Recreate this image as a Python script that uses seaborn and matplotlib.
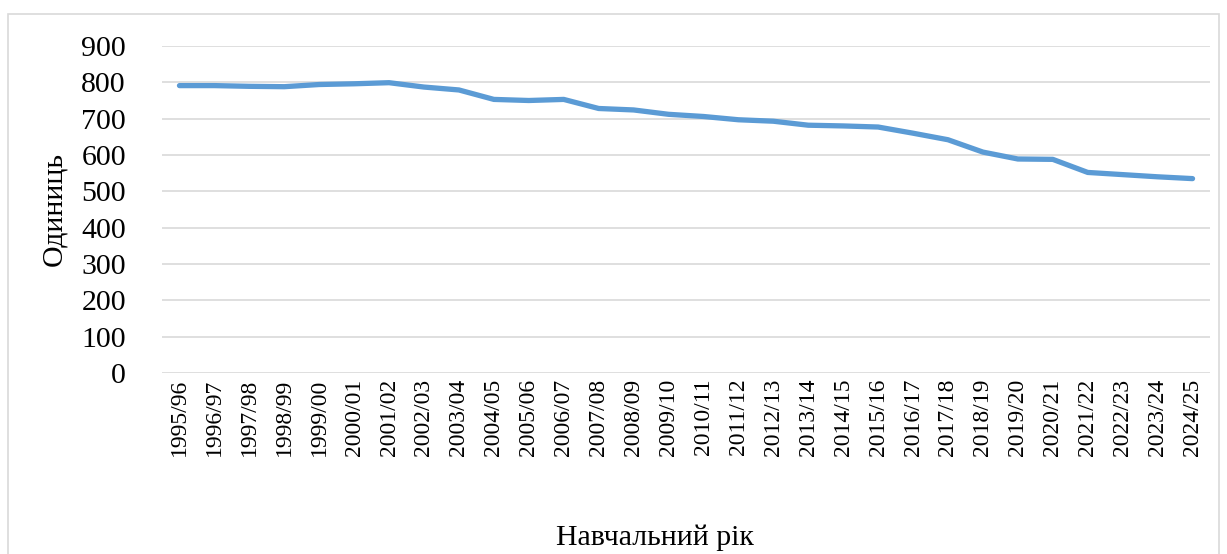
import matplotlib
matplotlib.use("Agg")
import matplotlib.pyplot as plt
import seaborn as sns
import pandas as pd
from matplotlib.patches import Rectangle

years = ["1995/96", "1996/97", "1997/98", "1998/99", "1999/00", "2000/01", "2001/02",
         "2002/03", "2003/04", "2004/05", "2005/06", "2006/07", "2007/08", "2008/09",
         "2009/10", "2010/11", "2011/12", "2012/13", "2013/14", "2014/15", "2015/16",
         "2016/17", "2017/18", "2018/19", "2019/20", "2020/21", "2021/22", "2022/23",
         "2023/24", "2024/25"]
values = [791, 791, 789, 788, 794, 796, 799, 787, 779, 753, 750, 753, 728, 724,
          712, 706, 697, 693, 682, 680, 677, 660, 642, 608, 589, 588, 552, 546,
          540, 535]
y_ticks = [0, 100, 200, 300, 400, 500, 600, 700, 800, 900]

sns.set_style("white")
plt.rcParams['font.family'] = ['Liberation Serif', 'DejaVu Serif']
plt.rcParams['text.color'] = 'black'
plt.rcParams['axes.labelcolor'] = 'black'
plt.rcParams['xtick.color'] = 'black'
plt.rcParams['ytick.color'] = 'black'

df = pd.DataFrame({"idx": range(len(years)), "val": values})

W, H = 1227, 554
fig = plt.figure(figsize=(W / 100, H / 100), dpi=100)
ax = fig.add_axes([162 / W, 1 - 373 / H, (1210 - 162) / W, (373 - 46) / H])

# outer chart border
fig.patches.append(Rectangle((8 / W, -0.01), (1219 - 8) / W, 1.01 - 14 / H, transform=fig.transFigure,
                             fill=False, edgecolor="#D9D9D9", linewidth=1.2))

sns.lineplot(data=df, x="idx", y="val", ax=ax, color="#5B9BD5", linewidth=3.8,
             solid_capstyle="round", solid_joinstyle="round", zorder=3)

ax.set_xlim(-0.5, len(years) - 0.5)
ax.set_ylim(0, 900)
ax.set_yticks(y_ticks)
ax.set_yticklabels([str(v) for v in y_ticks], fontsize=21.5)
ax.set_xticks(range(len(years)))
ax.set_xticklabels(years, rotation=90, fontsize=17)
ax.tick_params(axis="both", length=0, colors="black")
ax.tick_params(axis="y", pad=26)
ax.tick_params(axis="x", pad=4)
ax.grid(axis="y", color="#D9D9D9", linewidth=1.2)
ax.set_axisbelow(True)
for s in ax.spines.values():
    s.set_visible(False)

ax.set_ylabel("Одиниць", fontsize=21.5, labelpad=10, color="black")
ax.set_xlabel("")
fig.text(655 / W, 1 - 538 / H, "Навчальний рік", fontsize=21.5, ha="center", va="center",
         color="black")

fig.savefig("out.png", dpi=100)
